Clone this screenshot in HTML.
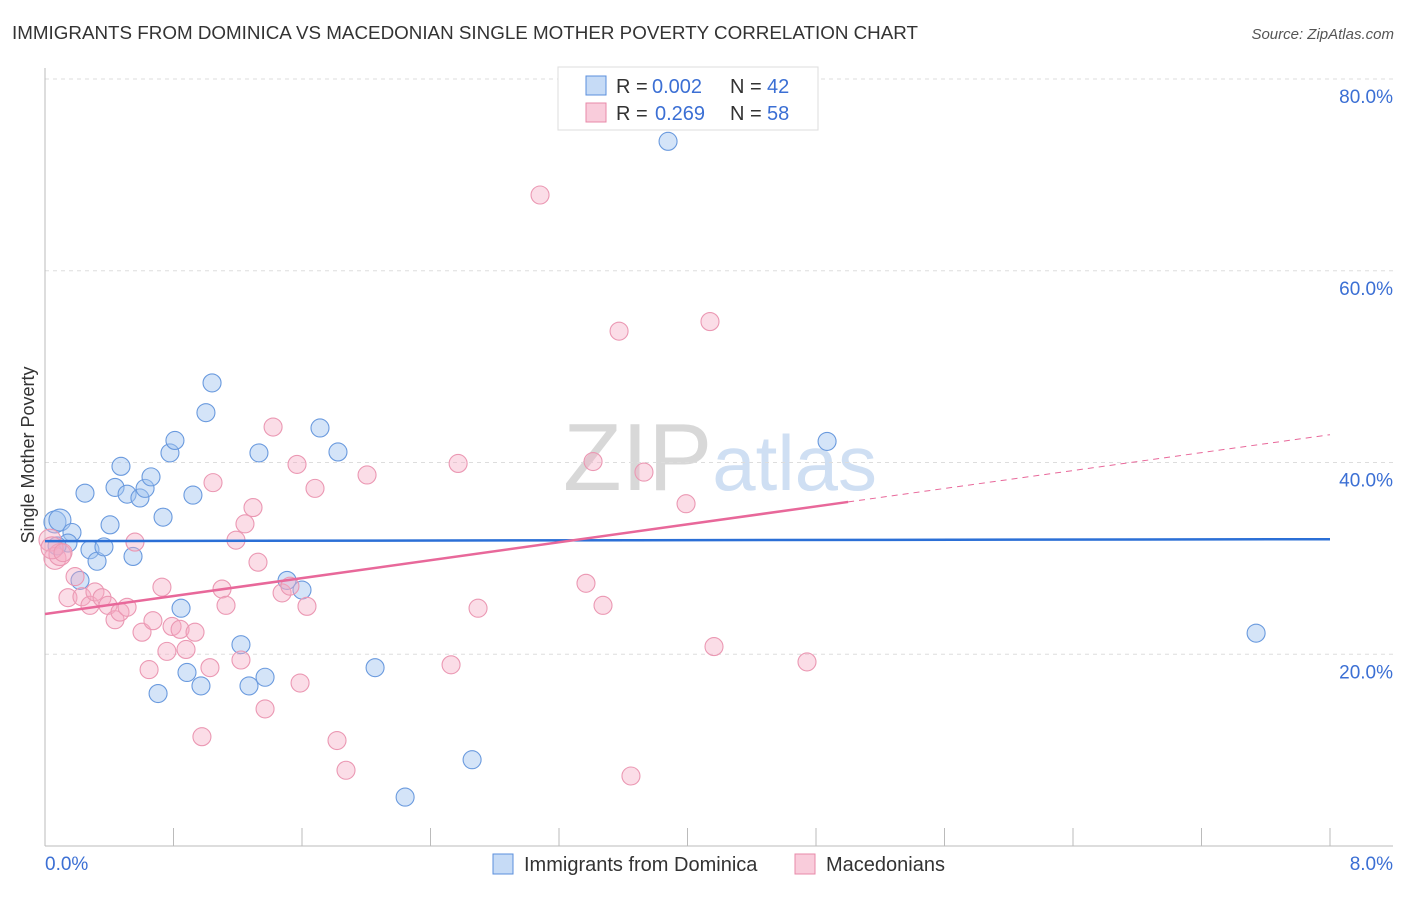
<!DOCTYPE html>
<html><head><meta charset="utf-8"><style>
body{margin:0;background:#fff;font-family:"Liberation Sans",sans-serif;}
svg text{font-family:"Liberation Sans",sans-serif;}
</style></head><body>
<svg id="chart" width="1406" height="892">
<text x="12" y="39" font-size="18" fill="#333" textLength="906" lengthAdjust="spacingAndGlyphs">IMMIGRANTS FROM DOMINICA VS MACEDONIAN SINGLE MOTHER POVERTY CORRELATION CHART</text>
<text x="1394" y="39" font-size="15" fill="#555" font-style="italic" text-anchor="end">Source: ZipAtlas.com</text>
<text x="720" y="490" font-size="96" fill="#ddd" text-anchor="middle" font-family="Liberation Serif"><tspan fill="#d8d8d8">ZIP</tspan><tspan fill="#cfdff3" font-family="Liberation Sans" font-size="78">atlas</tspan></text>
<g id="grid"></g><g id="axes"></g><g id="marks"></g><g id="lines"></g>
<text transform="translate(34,455) rotate(-90)" font-size="18" fill="#333" text-anchor="middle">Single Mother Poverty</text>
<g>
<rect x="558" y="67" width="260" height="63" fill="#fff" stroke="#ddd"/>
<rect x="586" y="76" width="20" height="19" fill="rgba(160,195,240,0.6)" stroke="#5b8fdc"/>
<text x="616" y="93" font-size="20" fill="#333">R =</text>
<text x="652" y="93" font-size="20" fill="#3b6fd4">0.002</text>
<text x="730" y="93" font-size="20" fill="#333">N =</text>
<text x="767" y="93" font-size="20" fill="#3b6fd4">42</text>
<rect x="586" y="103" width="20" height="19" fill="rgba(245,170,195,0.6)" stroke="#e88aa8"/>
<text x="616" y="120" font-size="20" fill="#333">R =</text>
<text x="655" y="120" font-size="20" fill="#3b6fd4">0.269</text>
<text x="730" y="120" font-size="20" fill="#333">N =</text>
<text x="767" y="120" font-size="20" fill="#3b6fd4">58</text>
</g>
<g>
<rect x="493" y="854" width="20" height="20" fill="rgba(160,195,240,0.6)" stroke="#5b8fdc"/>
<text x="524" y="871" font-size="20" fill="#333">Immigrants from Dominica</text>
<rect x="795" y="854" width="20" height="20" fill="rgba(245,170,195,0.6)" stroke="#e88aa8"/>
<text x="826" y="871" font-size="20" fill="#333">Macedonians</text>
</g>
</svg>
<script>
const blueX=[0.062,0.093,0.168,0.143,0.075,0.249,0.218,0.280,0.324,0.367,0.405,0.436,0.473,0.511,0.548,0.591,0.623,0.660,0.735,0.778,0.809,0.847,0.884,0.921,0.971,1.002,1.040,1.220,1.270,1.332,1.370,1.507,1.600,1.712,1.824,2.055,2.242,2.659,3.879,4.869,7.540,0.704];
const blueY=[33.8,34.0,32.7,31.6,31.3,36.8,27.7,30.9,29.7,31.2,33.5,37.4,39.6,36.7,30.2,36.3,37.3,38.5,34.3,41.0,42.3,24.8,18.1,36.6,16.7,45.2,48.3,21.0,16.7,41.0,17.6,27.7,26.7,43.6,41.1,18.6,5.1,9.0,73.5,42.2,22.2,15.9];
const pinkX=[0.031,0.062,0.093,0.044,0.112,0.143,0.187,0.230,0.280,0.311,0.355,0.392,0.436,0.467,0.511,0.560,0.604,0.648,0.672,0.728,0.759,0.791,0.841,0.878,0.934,0.977,1.027,1.046,1.102,1.127,1.189,1.220,1.245,1.295,1.326,1.370,1.420,1.476,1.525,1.569,1.588,1.631,1.681,1.818,1.874,2.005,2.528,2.572,2.696,3.082,3.368,3.412,3.474,3.574,3.648,3.729,3.991,4.140,4.165,4.744];
const pinkY=[31.9,30.0,30.4,31.1,30.6,25.9,28.1,26.0,25.1,26.5,25.9,25.1,23.6,24.4,24.9,31.7,22.3,18.4,23.5,27.0,20.3,22.9,22.6,20.5,22.3,11.4,18.6,37.9,26.8,25.1,31.9,19.4,33.6,35.3,29.6,14.3,43.7,26.4,27.1,39.8,17.0,25.0,37.3,11.0,7.9,38.7,18.9,39.9,24.8,67.9,27.4,40.1,25.1,53.7,7.3,39.0,35.7,54.7,20.8,19.2];
const yTicks=[20,40,60,80];
const yTickLabels=["20.0%","40.0%","60.0%","80.0%"];
const xTickLabels=["0.0%","8.0%"];
const blueTrend=[31.8,32.0];
const pinkTrend=[24.2,42.9];
const pinkSolidEnd=5.0;

const NS="http://www.w3.org/2000/svg";
const X0=45,X1=1330,Y0=846,YS=9.5875;
const sx=v=>X0+(v/8)*(X1-X0);
const sy=v=>Y0-v*YS;
function mk(tag,attrs,parent){const e=document.createElementNS(NS,tag);for(const k in attrs)e.setAttribute(k,attrs[k]);parent.appendChild(e);return e;}
const grid=document.getElementById('grid'),axes=document.getElementById('axes'),marks=document.getElementById('marks'),lines=document.getElementById('lines');
yTicks.forEach((t,i)=>{
 const g=mk('line',{x1:X0,x2:1393,y1:sy(t),y2:sy(t),stroke:'#ddd','stroke-dasharray':'4,4'},grid);
 
 
 const tx=mk('text',{x:1393,y:sy(t)+24,'font-size':19,fill:'#3b6fd4','text-anchor':'end'},axes);
 tx.textContent=yTickLabels[i];
 
 
});
const ax=mk('line',{x1:X0,x2:1393,y1:Y0,y2:Y0,stroke:'#bbb'},axes);


const ay=mk('line',{x1:X0,x2:X0,y1:68,y2:Y0,stroke:'#bbb'},axes);


for(let i=0;i<=10;i++){
 const v=i*0.8;
 const tk=mk('line',{x1:sx(v),x2:sx(v),y1:828,y2:Y0,stroke:'#bbb'},axes);
 
 
}
[[0,'start',X0],[8,'end',1393]].forEach((p,i)=>{
 const t=mk('text',{x:p[2],y:870,'font-size':19,fill:'#3b6fd4','text-anchor':p[1]},axes);
 t.textContent=xTickLabels[i];
 
 
});
function dots(xs,ys,fill,stroke,name,bigCount){
 xs.forEach((x,i)=>{
  const big=i<bigCount;
  const c=mk('circle',{cx:sx(x),cy:sy(ys[i]),r:big?11:9,fill:fill,stroke:stroke,'stroke-width':1.1},marks);
  
  
 });
}
dots(blueX,blueY,'rgba(160,195,240,0.45)','#6a9ade','point-dominica',2);
dots(pinkX,pinkY,'rgba(245,170,195,0.4)','#eb98b3','point-macedonians',4);
const bl=mk('line',{x1:sx(0),x2:sx(8),y1:sy(blueTrend[0]),y2:sy(blueTrend[1]),stroke:'#2b6fd6','stroke-width':2.5},lines);


const pv=x=>pinkTrend[0]+(pinkTrend[1]-pinkTrend[0])*x/8;
const pl=mk('line',{x1:sx(0),x2:sx(pinkSolidEnd),y1:sy(pv(0)),y2:sy(pv(pinkSolidEnd)),stroke:'#e8689a','stroke-width':2.5},lines);


const pd=mk('line',{x1:sx(pinkSolidEnd),x2:sx(8),y1:sy(pv(pinkSolidEnd)),y2:sy(pv(8)),stroke:'#e8689a','stroke-width':1,'stroke-dasharray':'6,5'},lines);


</script>
</body></html>
